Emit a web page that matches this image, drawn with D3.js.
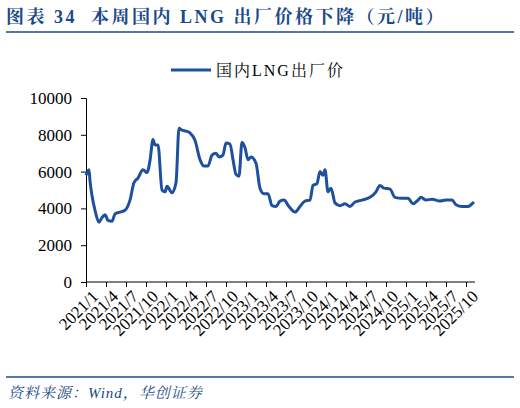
<!DOCTYPE html>
<html><head><meta charset="utf-8">
<script src="https://cdn.jsdelivr.net/npm/d3@7"></script>
<style>body{margin:0;background:#fff}</style>
</head><body><div id="chart"></div>
<script>
// months since 2021/1 and price (yuan/ton)
const months = [0,0.45,0.6,0.9,1.35,1.95,2.4,2.85,3.3,3.9,4.35,5.1,5.85,6.6,7.2,7.8,8.55,9.15,9.6,10.05,10.35,10.8,11.4,11.85,12.15,12.9,13.5,13.95,14.4,15,15.6,16.35,17.1,17.7,18.3,18.9,19.5,19.95,20.55,21,21.6,22.05,22.5,22.95,23.4,23.85,24.3,24.75,25.5,26.1,26.7,27.3,27.9,28.5,29.1,29.7,30.45,31.35,32.1,32.85,33.6,34.05,34.65,35.1,35.55,35.85,36.3,36.75,37.35,38.1,38.85,39.6,40.35,41.4,42.6,43.5,44.1,44.7,45.6,46.35,47.4,48.3,49.05,49.8,50.25,51,51.9,53.1,54,54.9,55.5,56.4,57.3,57.75,58.2]
const prices = [5800,6100,5500,4700,3900,3250,3500,3650,3350,3300,3700,3800,3900,4450,5400,5650,6100,5950,6600,7750,7450,7450,5000,4900,5200,4850,5400,8350,8250,8200,8100,7700,6650,6300,6300,6900,7000,6800,6900,7550,7500,6650,5850,5750,7600,7300,6650,6800,6450,5100,4800,4800,4150,4100,4400,4450,4100,3800,4100,4400,4450,5250,5350,6000,5800,6100,4900,5100,4300,4150,4250,4100,4350,4450,4600,4900,5250,5100,5050,4600,4550,4550,4250,4450,4600,4450,4500,4400,4450,4450,4200,4100,4100,4200,4350]
const tickLabels = ['2021/1','2021/4','2021/7','2021/10','2022/1','2022/4','2022/7','2022/10','2023/1','2023/4','2023/7','2023/10','2024/1','2024/4','2024/7','2024/10','2025/1','2025/4','2025/7','2025/10']
const yTicks = [0,2000,4000,6000,8000,10000]

const blue = '#1f50a0', navy = '#1a4a8a'
const svg = d3.select('#chart').append('svg').attr('width',520).attr('height',408)
const serif = '"Liberation Serif","Noto Serif CJK SC","Noto Sans CJK SC",serif'

const title = svg.append('text').attr('x',6).attr('y',23).attr('fill',navy).attr('font-family',serif)
  .attr('font-weight','bold').attr('font-size',18).attr('letter-spacing',2.5)
title.append('tspan').text('图表 34')
title.append('tspan').attr('dx',14).text('本周国内 LNG 出厂价格下降（元/吨）')
svg.append('line').attr('x1',6).attr('x2',514).attr('y1',32).attr('y2',32).attr('stroke',navy).attr('stroke-width',1.5)
svg.append('line').attr('x1',6).attr('x2',514).attr('y1',377).attr('y2',377).attr('stroke',navy).attr('stroke-width',1.5)
svg.append('text').attr('x',8).attr('y',398).attr('fill',navy).attr('font-family',serif)
  .attr('font-style','italic').attr('font-size',15).attr('letter-spacing',1).text('资料来源：Wind，华创证券')

// legend
svg.append('line').attr('x1',171).attr('x2',211).attr('y1',70).attr('y2',70).attr('stroke',blue).attr('stroke-width',3)
svg.append('text').attr('x',216).attr('y',76).attr('font-family',serif).attr('font-size',16).attr('letter-spacing',2).text('国内LNG出厂价')

const x = d3.scaleLinear().domain([0,57]).range([86,466])
const y = d3.scaleLinear().domain([0,10000]).range([282,98])

const xa = svg.append('g').attr('transform','translate(0,282)')
  .call(d3.axisBottom(x).tickValues(d3.range(0,58,3)).tickSize(5).tickFormat((d,i)=>tickLabels[i]))
xa.select('.domain').attr('d','M' + x(0) + ',0H475')
xa.selectAll('text').attr('font-family',serif).attr('font-size',17).attr('fill','#000')
  .attr('text-anchor','end').attr('transform','rotate(-45)').attr('dx','-2').attr('dy','12')

const ya = svg.append('g').attr('transform','translate(86,0)')
  .call(d3.axisLeft(y).tickValues(yTicks).tickSize(5).tickFormat(d3.format('d')))
ya.selectAll('text').attr('font-family',serif).attr('font-size',17).attr('fill','#000').attr('dx','-6')

svg.append('path').datum(months.map((m,i)=>[m,prices[i]]))
  .attr('fill','none').attr('stroke',blue).attr('stroke-width',3).attr('stroke-linejoin','round')
  .attr('d', d3.line().x(d=>x(d[0])).y(d=>y(d[1])).curve(d3.curveMonotoneX))
</script></body></html>
